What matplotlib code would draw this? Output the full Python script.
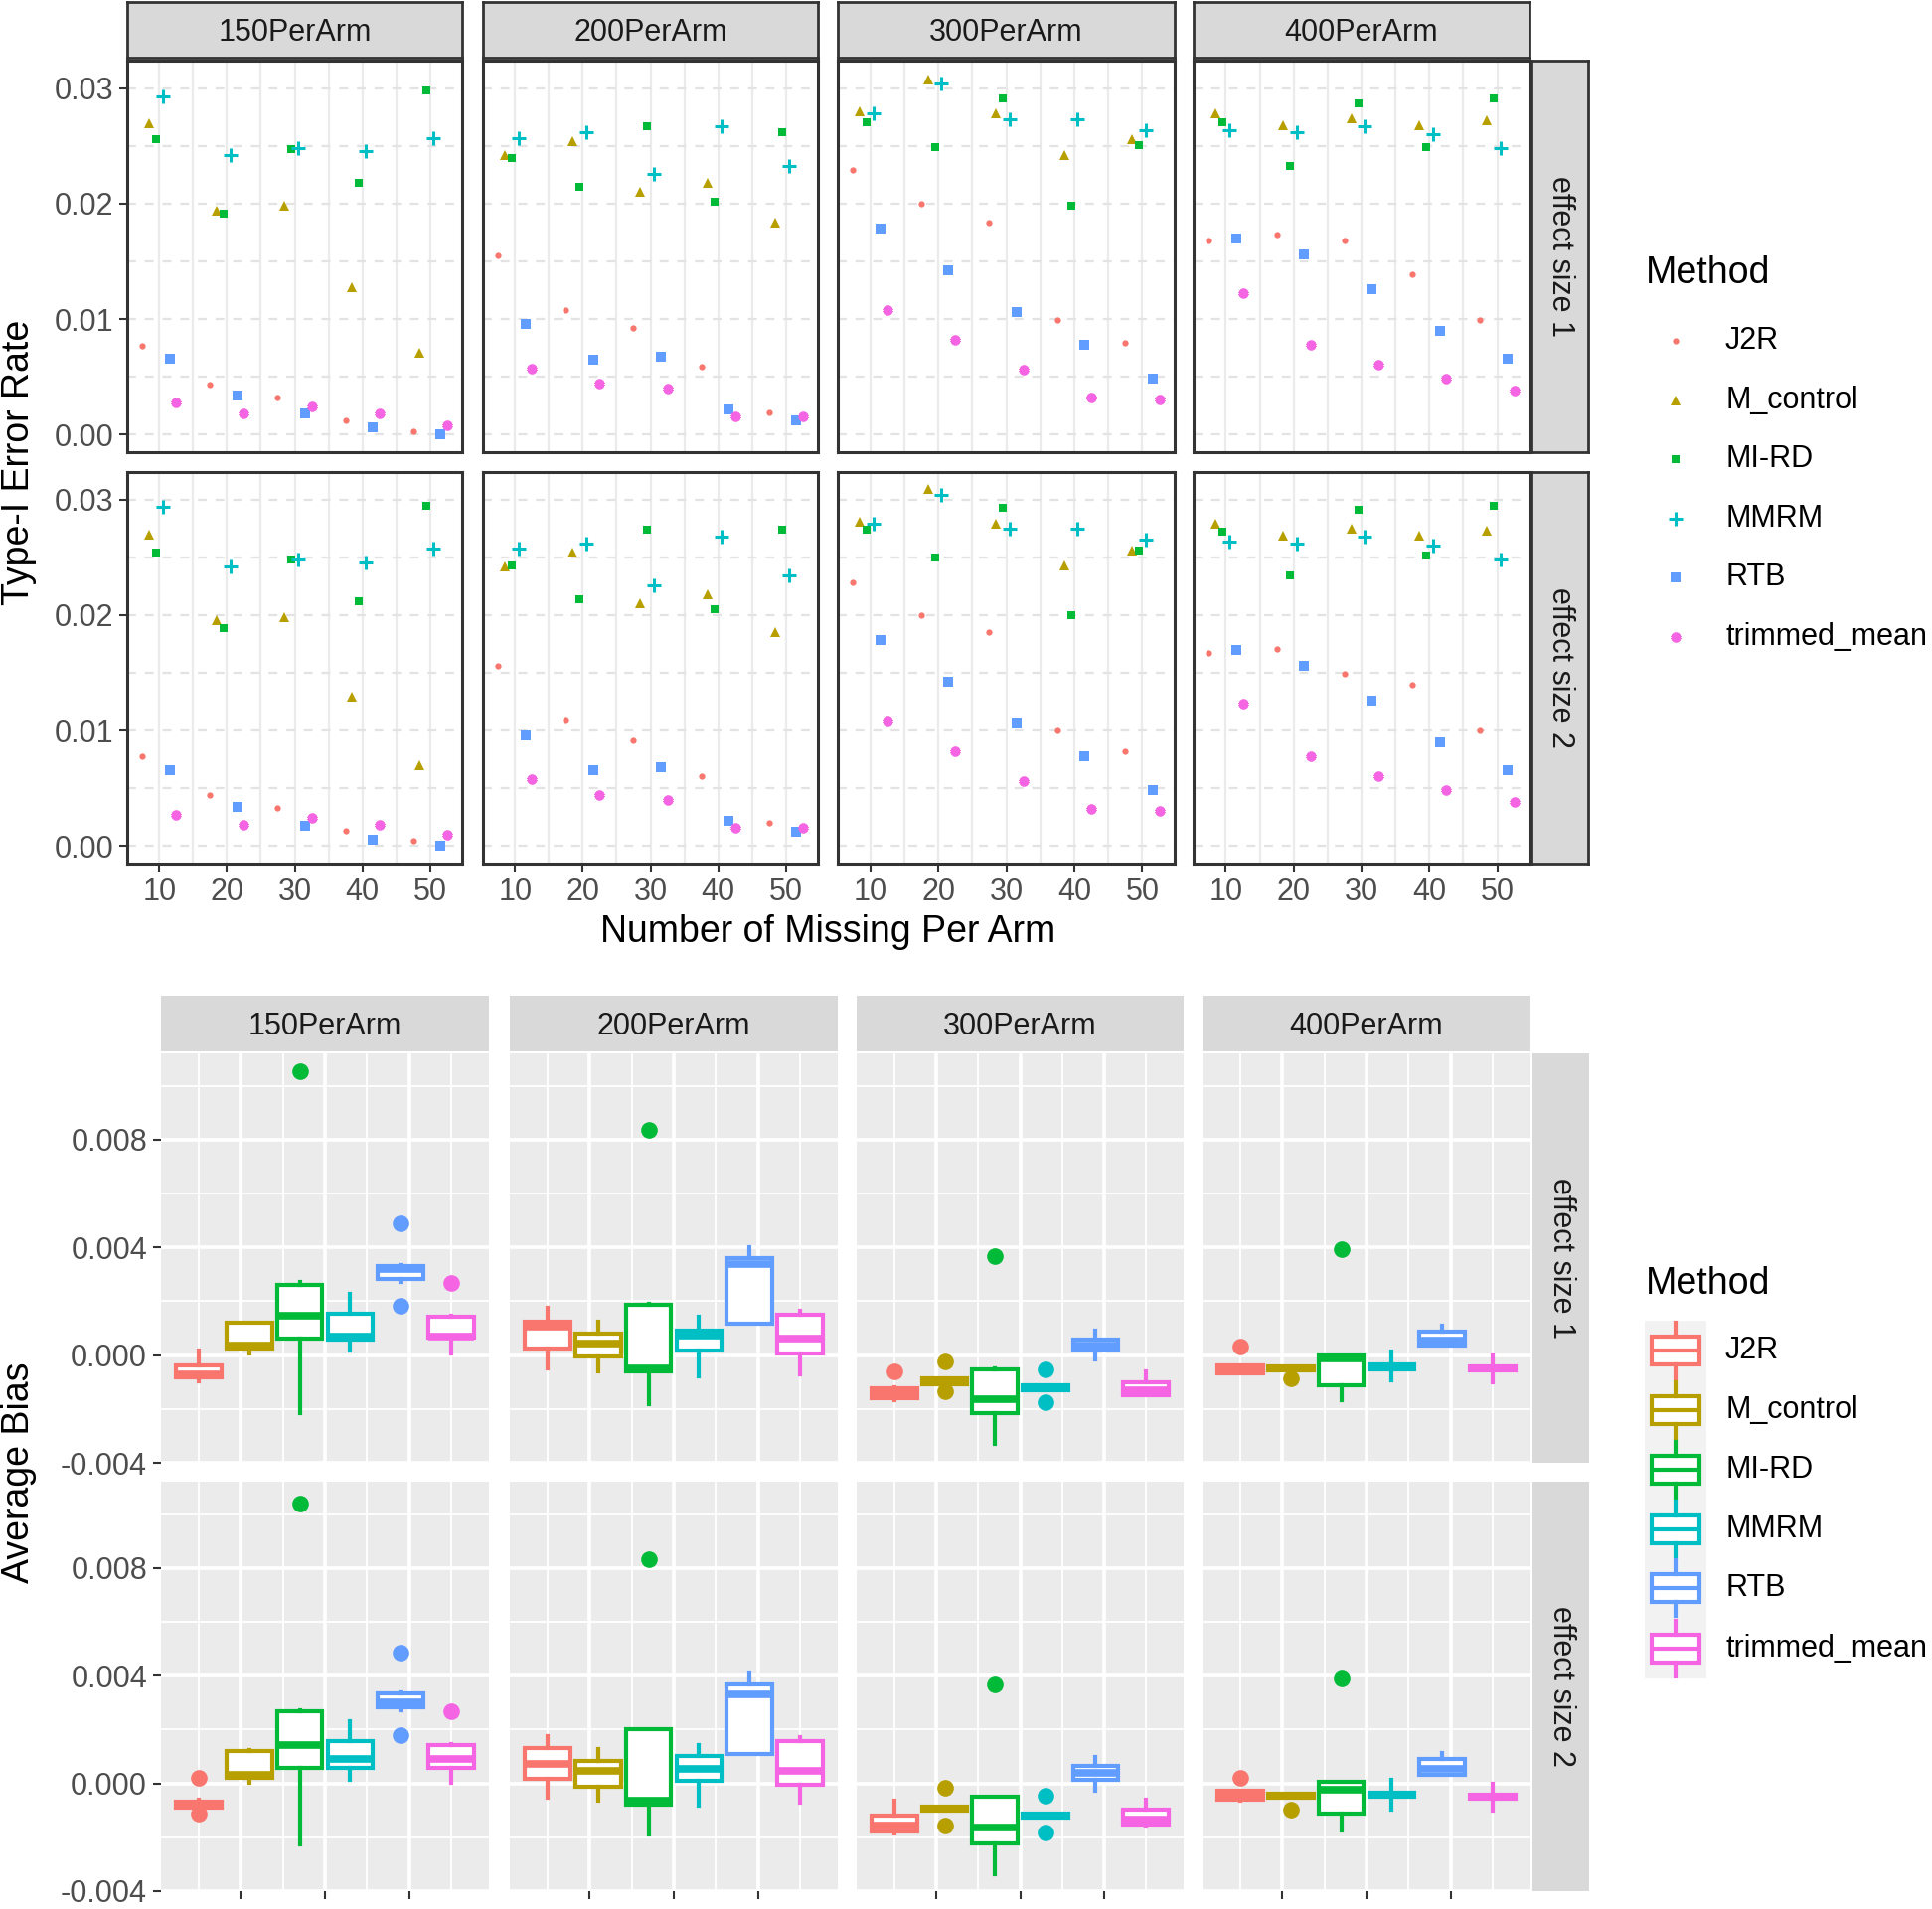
import numpy as np
import matplotlib.pyplot as plt
from matplotlib.ticker import FixedLocator, NullFormatter
from matplotlib.patches import Rectangle

plt.rcParams['font.family'] = ['Liberation Sans', 'DejaVu Sans']

W, H = 1944, 1921

methods = ['J2R', 'M_control', 'MI-RD', 'MMRM', 'RTB', 'trimmed_mean']
arm_sizes = ['150PerArm', '200PerArm', '300PerArm', '400PerArm']
effect_sizes = ['effect size 1', 'effect size 2']
n_missing = [10, 20, 30, 40, 50]
colors = ['#F8766D', '#B79F00', '#00BA38', '#00BFC4', '#619CFF', '#F564E3']

# Type-I error rate; one row per method, one value per n_missing
t1_es1_150 = [[0.0077, 0.0043, 0.0032, 0.0012, 0.0003],
              [0.0270, 0.0194, 0.0198, 0.0128, 0.0071],
              [0.0256, 0.0191, 0.0247, 0.0218, 0.0298],
              [0.0293, 0.0242, 0.0248, 0.0246, 0.0257],
              [0.0066, 0.0034, 0.0018, 0.0006, 0.0000],
              [0.0028, 0.0018, 0.0024, 0.0018, 0.0008]]
t1_es1_200 = [[0.0155, 0.0108, 0.0092, 0.0059, 0.0019],
              [0.0242, 0.0254, 0.0210, 0.0218, 0.0184],
              [0.0240, 0.0215, 0.0267, 0.0202, 0.0262],
              [0.0257, 0.0262, 0.0226, 0.0267, 0.0233],
              [0.0096, 0.0065, 0.0067, 0.0022, 0.0012],
              [0.0057, 0.0044, 0.0040, 0.0016, 0.0016]]
t1_es1_300 = [[0.0229, 0.0200, 0.0184, 0.0099, 0.0079],
              [0.0280, 0.0308, 0.0278, 0.0242, 0.0256],
              [0.0271, 0.0249, 0.0291, 0.0198, 0.0251],
              [0.0278, 0.0304, 0.0273, 0.0273, 0.0264],
              [0.0178, 0.0142, 0.0106, 0.0078, 0.0048],
              [0.0108, 0.0082, 0.0056, 0.0032, 0.0030]]
t1_es1_400 = [[0.0168, 0.0173, 0.0168, 0.0139, 0.0099],
              [0.0278, 0.0268, 0.0274, 0.0268, 0.0272],
              [0.0271, 0.0233, 0.0287, 0.0249, 0.0291],
              [0.0264, 0.0262, 0.0267, 0.0260, 0.0248],
              [0.0170, 0.0156, 0.0126, 0.0090, 0.0066],
              [0.0122, 0.0078, 0.0060, 0.0048, 0.0038]]

t1_es2_150 = [[0.0078, 0.0044, 0.0033, 0.0013, 0.0004],
              [0.0270, 0.0196, 0.0198, 0.0129, 0.0070],
              [0.0254, 0.0189, 0.0248, 0.0212, 0.0295],
              [0.0294, 0.0242, 0.0248, 0.0246, 0.0258],
              [0.0066, 0.0034, 0.0017, 0.0005, 0.0000],
              [0.0027, 0.0018, 0.0024, 0.0018, 0.0010]]
t1_es2_200 = [[0.0156, 0.0109, 0.0091, 0.0060, 0.0020],
              [0.0242, 0.0254, 0.0210, 0.0218, 0.0185],
              [0.0243, 0.0214, 0.0274, 0.0205, 0.0274],
              [0.0258, 0.0262, 0.0226, 0.0268, 0.0234],
              [0.0096, 0.0066, 0.0068, 0.0022, 0.0012],
              [0.0058, 0.0044, 0.0040, 0.0016, 0.0016]]
t1_es2_300 = [[0.0228, 0.0200, 0.0185, 0.0100, 0.0082],
              [0.0281, 0.0309, 0.0279, 0.0243, 0.0256],
              [0.0274, 0.0250, 0.0293, 0.0200, 0.0256],
              [0.0279, 0.0304, 0.0275, 0.0275, 0.0265],
              [0.0178, 0.0142, 0.0106, 0.0078, 0.0048],
              [0.0108, 0.0082, 0.0056, 0.0032, 0.0030]]
t1_es2_400 = [[0.0167, 0.0171, 0.0149, 0.0140, 0.0100],
              [0.0279, 0.0269, 0.0275, 0.0269, 0.0273],
              [0.0272, 0.0234, 0.0291, 0.0252, 0.0295],
              [0.0264, 0.0262, 0.0268, 0.0260, 0.0248],
              [0.0170, 0.0156, 0.0126, 0.0090, 0.0066],
              [0.0123, 0.0078, 0.0060, 0.0048, 0.0038]]

# Average bias box stats per method: (whislo, q1, med, q3, whishi, outliers)
bias_es1_150 = [(-0.00096, -0.00082, -0.00070, -0.00037, 0.00018, []),
                (0.00006, 0.00025, 0.00037, 0.00120, 0.00122, []),
                (-0.00215, 0.00062, 0.00145, 0.00262, 0.00270, [0.01052]),
                (0.00018, 0.00059, 0.00070, 0.00154, 0.00228, []),
                (0.00271, 0.00283, 0.00318, 0.00330, 0.00334, [0.00490, 0.00182]),
                (0.00006, 0.00065, 0.00068, 0.00142, 0.00145, [0.00268])]
bias_es1_200 = [(-0.00049, 0.00025, 0.00105, 0.00123, 0.00175, []),
                (-0.00062, -0.00006, 0.00043, 0.00078, 0.00123, []),
                (-0.00181, -0.00062, -0.00050, 0.00188, 0.00190, [0.00837]),
                (-0.00080, 0.00018, 0.00074, 0.00092, 0.00142, []),
                (0.00117, 0.00117, 0.00338, 0.00360, 0.00400, []),
                (-0.00070, 0.00004, 0.00062, 0.00151, 0.00166, [])]
bias_es1_300 = [(-0.00166, -0.00160, -0.00142, -0.00123, -0.00120, [-0.00062]),
                (-0.00108, -0.00108, -0.00098, -0.00086, -0.00086, [-0.00022, -0.00135]),
                (-0.00330, -0.00215, -0.00163, -0.00055, -0.00050, [0.00367]),
                (-0.00130, -0.00130, -0.00121, -0.00111, -0.00111, [-0.00053, -0.00176]),
                (-0.00018, 0.00021, 0.00037, 0.00059, 0.00092, []),
                (-0.00150, -0.00148, -0.00132, -0.00102, -0.00062, [])]
bias_es1_400 = [(-0.00068, -0.00068, -0.00053, -0.00039, -0.00039, [0.00031]),
                (-0.00058, -0.00058, -0.00049, -0.00041, -0.00041, [-0.00086]),
                (-0.00166, -0.00111, -0.00012, 0.00000, 0.00000, [0.00394]),
                (-0.00092, -0.00052, -0.00043, -0.00034, 0.00015, []),
                (0.00037, 0.00037, 0.00052, 0.00086, 0.00110, []),
                (-0.00101, -0.00058, -0.00049, -0.00041, 0.00000, [])]

bias_es2_150 = [(-0.00095, -0.00090, -0.00078, -0.00068, -0.00062, [0.00021, -0.00114]),
                (0.00002, 0.00021, 0.00030, 0.00122, 0.00125, []),
                (-0.00225, 0.00058, 0.00144, 0.00267, 0.00270, [0.01039]),
                (0.00015, 0.00058, 0.00089, 0.00156, 0.00230, []),
                (0.00270, 0.00281, 0.00300, 0.00334, 0.00338, [0.00486, 0.00181]),
                (0.00002, 0.00058, 0.00089, 0.00144, 0.00146, [0.00267])]
bias_es2_200 = [(-0.00053, 0.00017, 0.00073, 0.00132, 0.00175, []),
                (-0.00065, -0.00014, 0.00046, 0.00085, 0.00126, []),
                (-0.00188, -0.00078, -0.00065, 0.00200, 0.00202, [0.00831]),
                (-0.00084, 0.00009, 0.00052, 0.00101, 0.00144, []),
                (0.00110, 0.00110, 0.00329, 0.00366, 0.00409, []),
                (-0.00071, -0.00007, 0.00046, 0.00156, 0.00171, [])]
bias_es2_300 = [(-0.00185, -0.00180, -0.00158, -0.00121, -0.00065, []),
                (-0.00103, -0.00103, -0.00095, -0.00088, -0.00088, [-0.00016, -0.00158]),
                (-0.00336, -0.00223, -0.00164, -0.00050, -0.00048, [0.00368]),
                (-0.00128, -0.00128, -0.00121, -0.00114, -0.00114, [-0.00047, -0.00182]),
                (-0.00026, 0.00015, 0.00039, 0.00066, 0.00097, []),
                (-0.00158, -0.00154, -0.00133, -0.00096, -0.00059, [])]
bias_es2_400 = [(-0.00065, -0.00059, -0.00041, -0.00028, -0.00028, [0.00021]),
                (-0.00054, -0.00054, -0.00047, -0.00040, -0.00040, [-0.00096]),
                (-0.00176, -0.00112, -0.00022, 0.00005, 0.00005, [0.00390]),
                (-0.00096, -0.00050, -0.00043, -0.00036, 0.00015, []),
                (0.00033, 0.00033, 0.00054, 0.00089, 0.00113, []),
                (-0.00102, -0.00057, -0.00050, -0.00043, 0.00000, [])]

t1_data = [[t1_es1_150, t1_es1_200, t1_es1_300, t1_es1_400],
           [t1_es2_150, t1_es2_200, t1_es2_300, t1_es2_400]]
bias_data = [[bias_es1_150, bias_es1_200, bias_es1_300, bias_es1_400],
             [bias_es2_150, bias_es2_200, bias_es2_300, bias_es2_400]]

markers = ['o', '^', 's', '+', 's', (6, 2, 0)]
msizes = [4.5, 7, 6, 10, 6.5, 7]
mews = [0, 0, 0, 2.2, 0, 2.8]
dodge = [-2.5, -1.5, -0.5, 0.5, 1.5, 2.5]
LW = 3.0


def box(x0, y0, x1, y1):
    # pixel box (top-left origin) -> figure fraction
    return [x0 / W, 1 - y1 / H, (x1 - x0) / W, (y1 - y0) / H]


def strip(rect, label, vertical=False, border=True):
    s = fig.add_axes(box(*rect))
    s.set_facecolor('#D9D9D9')
    s.set_xticks([])
    s.set_yticks([])
    for sp in s.spines.values():
        sp.set_visible(border)
        sp.set_color('#333333')
        sp.set_linewidth(2)
    s.text(0.5, 0.45 if not vertical else 0.5, label, transform=s.transAxes,
           ha='center', va='center', fontsize=22, color='#1A1A1A',
           rotation=-90 if vertical else 0)


fig = plt.figure(figsize=(W / 100, H / 100), dpi=100)

# ---------------- top: Type-I error rate ----------------
top_cols = [(128, 465), (486, 823), (843, 1182), (1201, 1539)]
top_rows = [(61, 455), (475, 869)]
for r, (y0, y1) in enumerate(top_rows):
    for c, (x0, x1) in enumerate(top_cols):
        ax = fig.add_axes(box(x0, y0, x1, y1))
        ax.set_facecolor('white')
        for m, name in enumerate(methods):
            xs = np.array(n_missing) + dodge[m]
            ax.plot(xs, t1_data[r][c][m], linestyle='none', marker=markers[m],
                    ms=msizes[m], color=colors[m], mew=mews[m], zorder=3)
        ax.set_xlim(5.25, 54.75)
        ax.set_ylim(-0.00154, 0.0324)
        ax.xaxis.set_major_locator(FixedLocator(n_missing))
        ax.xaxis.set_minor_locator(FixedLocator([15, 25, 35, 45]))
        ax.yaxis.set_major_locator(FixedLocator([0, 0.01, 0.02, 0.03]))
        ax.yaxis.set_minor_locator(FixedLocator([0.005, 0.015, 0.025]))
        ax.grid(True, axis='x', which='both', color='#EBEBEB', lw=1.6)
        ax.grid(True, axis='y', which='both', color='#E3E3E3', lw=1.6,
                linestyle=(0, (4, 4)))
        ax.set_axisbelow(True)
        for sp in ax.spines.values():
            sp.set_color('#333333')
            sp.set_linewidth(2.2)
        ax.tick_params(which='minor', length=0)
        ax.tick_params(which='major', length=6, width=1.5, color='#333333',
                       labelsize=22, labelcolor='#4D4D4D', pad=4)
        if c == 0:
            ax.set_yticklabels(['0.00', '0.01', '0.02', '0.03'])
        else:
            ax.tick_params(axis='y', length=0)
            ax.yaxis.set_major_formatter(NullFormatter())
        if r == 1:
            ax.set_xticklabels([str(v) for v in n_missing])
        else:
            ax.tick_params(axis='x', length=0)
            ax.xaxis.set_major_formatter(NullFormatter())

for c, (x0, x1) in enumerate(top_cols):
    strip((x0, 2, x1, 58), arm_sizes[c])
for r, (y0, y1) in enumerate(top_rows):
    strip((1541, y0, 1598, y1), effect_sizes[r], vertical=True)

fig.text(19 / W, 1 - 465 / H, 'Type-I Error Rate', rotation=90, ha='center',
         va='center', fontsize=27)
fig.text(833 / W, 1 - 938 / H, 'Number of Missing Per Arm', ha='center',
         va='center', fontsize=27)

# ---------------- bottom: Average bias ----------------
bot_cols = [(162, 492), (513, 843), (862, 1191), (1210, 1540)]
bot_rows = [(1060, 1472), (1491, 1903)]
for r, (y0, y1) in enumerate(bot_rows):
    for c, (x0, x1) in enumerate(bot_cols):
        ax = fig.add_axes(box(x0, y0, x1, y1))
        ax.set_facecolor('#EBEBEB')
        for m in range(len(methods)):
            lo, q1, med, q3, hi, out = bias_data[r][c][m]
            st = [dict(whislo=lo, q1=q1, med=med, q3=q3, whishi=hi, fliers=out)]
            ax.bxp(st, positions=[m], widths=0.9, patch_artist=True,
                   showcaps=False,
                   boxprops=dict(facecolor='white', edgecolor=colors[m], lw=LW),
                   whiskerprops=dict(color=colors[m], lw=LW),
                   medianprops=dict(color=colors[m], lw=5.5, solid_capstyle='butt'),
                   flierprops=dict(marker='o', markerfacecolor=colors[m],
                                   markeredgecolor='none', markersize=12),
                   zorder=3)
        ax.set_xlim(-0.75, 5.75)
        ax.set_ylim(-0.004, 0.0112)
        ax.xaxis.set_major_locator(FixedLocator([5 / 6, 2.5, 25 / 6]))
        ax.xaxis.set_minor_locator(FixedLocator([0, 5 / 3, 10 / 3, 5]))
        ax.yaxis.set_major_locator(FixedLocator([-0.004, 0, 0.004, 0.008]))
        ax.yaxis.set_minor_locator(FixedLocator([-0.002, 0.002, 0.006, 0.010]))
        ax.grid(True, which='major', color='white', lw=2.6)
        ax.grid(True, which='minor', color='white', lw=1.3)
        ax.set_axisbelow(True)
        for sp in ax.spines.values():
            sp.set_visible(False)
        ax.tick_params(which='minor', length=0)
        ax.tick_params(which='major', length=6, width=1.5, color='#333333',
                       labelsize=22, labelcolor='#4D4D4D', pad=4)
        ax.xaxis.set_major_formatter(NullFormatter())
        if r == 0:
            ax.tick_params(axis='x', length=0)
        if c == 0:
            ax.set_yticklabels(['-0.004', '0.000', '0.004', '0.008'])
        else:
            ax.tick_params(axis='y', length=0)
            ax.yaxis.set_major_formatter(NullFormatter())

for c, (x0, x1) in enumerate(bot_cols):
    strip((x0, 1002, x1, 1058), arm_sizes[c], border=False)
for r, (y0, y1) in enumerate(bot_rows):
    strip((1542, y0, 1599, y1), effect_sizes[r], vertical=True, border=False)

fig.text(19 / W, 1 - 1482 / H, 'Average Bias', rotation=90, ha='center',
         va='center', fontsize=27)

# ---------------- legends ----------------
lg = fig.add_axes([0, 0, 1, 1])
lg.patch.set_alpha(0)

lg.text(1656, 275, 'Method', fontsize=27, va='center', ha='left')
top_key_y = [343, 403, 462, 522, 581, 641]
for m, name in enumerate(methods):
    lg.plot([1686], [top_key_y[m]], linestyle='none', marker=markers[m],
            ms=msizes[m], color=colors[m], mew=mews[m])
    lg.text(1736, top_key_y[m], name, fontsize=22, va='center', ha='left')

lg.text(1656, 1292, 'Method', fontsize=27, va='center', ha='left')
bot_key_y = [1359, 1419, 1479, 1539, 1598, 1659]
lg.add_patch(Rectangle((1655, 1329), 62, 360, facecolor='#F2F2F2',
                       edgecolor='none'))
for m, name in enumerate(methods):
    yc = bot_key_y[m]
    st = [dict(whislo=yc + 28, q1=yc + 14, med=yc, q3=yc - 14, whishi=yc - 28,
               fliers=[])]
    lg.bxp(st, positions=[1686], widths=48, patch_artist=True, showcaps=False,
           boxprops=dict(facecolor='white', edgecolor=colors[m], lw=LW),
           whiskerprops=dict(color=colors[m], lw=LW),
           medianprops=dict(color=colors[m], lw=LW),
           manage_ticks=False)
    lg.text(1736, yc, name, fontsize=22, va='center', ha='left')
lg.set_xlim(0, W)
lg.set_ylim(H, 0)
lg.axis('off')

fig.savefig('out.png', dpi=100)
